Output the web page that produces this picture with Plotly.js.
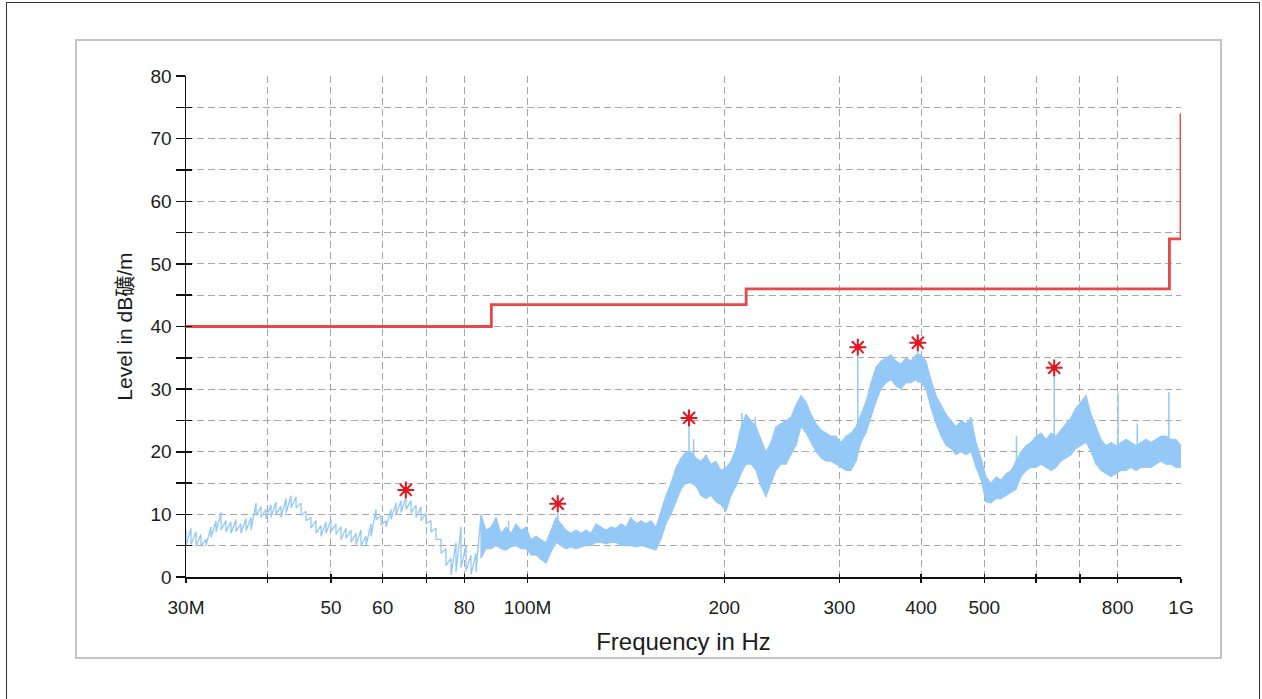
<!DOCTYPE html>
<html><head><meta charset="utf-8">
<script src="https://cdn.plot.ly/plotly-3.0.1.min.js"></script>
<style>
html,body{margin:0;padding:0;background:#fff;width:1262px;height:699px;overflow:hidden;}
#wrap{position:relative;width:1262px;height:699px;}
#chart{position:absolute;left:0;top:0;width:1262px;height:699px;}
.frame{position:absolute;pointer-events:none;box-sizing:border-box;}
</style></head><body>
<div id="wrap">
<div class="frame" style="left:6px;top:2px;width:1254px;height:730px;border:1.5px solid #333;"></div>
<div class="frame" style="left:75px;top:39px;width:1147px;height:620px;border:2px solid #c4c4c4;"></div>
<div id="chart"></div>
</div>
<script>
// ---- measured trace: frequency (MHz), upper and lower edge of the noisy band (dBµV/m)
const freqMHz = [30.00,30.53,31.08,31.63,32.19,32.76,33.35,33.94,34.54,35.15,35.78,36.41,37.07,37.73,38.40,39.08,39.77,40.48,41.20,41.93,42.68,43.44,44.21,45.00,45.79,46.60,47.44,48.28,49.14,50.01,50.90,51.80,52.73,53.67,54.62,55.59,56.58,57.59,58.61,59.65,60.71,61.79,62.89,64.01,65.14,66.30,67.48,68.68,69.90,71.14,72.41,73.70,75.00,76.33,77.69,79.07,80.48,81.91,83.37,84.85,86.36,87.90,89.46,91.05,92.67,94.32,95.99,97.70,99.43,101.2,103.0,104.8,106.7,108.6,110.5,112.5,114.5,116.5,118.6,120.7,122.8,125.0,127.2,129.5,131.8,134.1,136.5,138.9,141.4,143.9,146.5,149.1,151.8,154.5,157.2,160.0,162.8,165.7,168.7,171.7,174.7,177.8,181.0,184.2,187.5,190.8,194.2,197.7,201.2,204.8,208.4,212.1,215.9,219.7,223.6,227.6,231.6,235.7,239.9,244.2,248.5,252.9,257.5,262.1,266.7,271.4,276.3,281.2,286.2,291.3,296.4,301.7,307.1,312.6,318.1,323.8,329.5,335.4,341.3,347.4,353.6,359.9,366.3,372.8,379.4,386.1,393.0,400.0,407.1,414.3,421.7,429.2,436.9,444.7,452.5,460.5,468.8,477.1,485.6,494.2,503.0,511.9,521.0,530.3,539.7,549.3,559.1,569.0,579.1,589.4,599.9,610.6,621.4,632.4,643.7,655.2,666.8,678.7,690.7,703.0,715.5,728.2,741.2,754.4,767.8,781.4,795.3,809.4,823.8,838.5,853.4,868.6,884.0,899.7,915.7,932.0,948.5,965.4,982.6,1000];
const levelHigh = [7.5,7.8,7.2,6.8,6.0,8.0,9.0,10.3,9.0,8.8,9.2,8.5,9.3,9.5,11.8,11.2,10.8,11.5,12.0,11.3,12.5,13.0,12.8,11.8,10.5,9.5,9.0,8.2,8.8,9.2,8.5,8.0,7.8,7.5,7.0,7.5,6.5,8.5,10.8,9.8,9.0,10.8,11.8,12.2,12.8,12.2,11.5,11.2,10.2,9.0,7.8,6.0,4.5,3.0,5.5,8.0,5.0,3.5,3.8,10.0,7.5,8.0,9.5,7.0,8.0,7.0,8.5,7.5,8.0,6.0,6.5,6.0,5.5,7.5,9.5,8.5,7.5,7.0,7.5,7.0,7.5,7.0,8.5,8.0,7.5,8.0,7.8,8.5,8.0,9.5,8.5,9.0,8.5,9.0,8.0,10.5,13.0,15.0,17.5,19.0,20.0,20.0,19.0,18.5,19.5,18.0,18.5,17.0,17.5,18.5,20.5,24.0,26.0,25.0,24.0,22.0,20.0,21.5,24.0,24.5,25.0,25.5,27.5,29.0,28.0,26.0,24.5,23.5,23.0,22.5,22.5,21.5,22.5,23.0,24.0,26.0,28.0,31.0,33.5,34.5,35.0,35.5,34.5,34.0,35.0,34.5,35.5,35.5,34.5,31.5,29.0,27.5,26.0,25.0,24.0,25.0,24.5,25.5,21.5,19.0,16.0,15.0,16.0,15.5,16.5,17.0,18.5,20.0,21.0,21.5,22.5,23.0,22.0,23.0,22.5,23.5,24.5,25.5,27.0,28.0,29.0,26.0,24.0,22.0,21.0,21.5,21.0,21.5,22.0,21.5,21.0,21.5,22.0,21.5,22.0,22.5,22.5,22.0,22.0,21.0];
const levelLow = [5.0,5.2,5.0,5.0,5.0,6.3,7.2,7.5,7.2,7.0,7.3,7.0,7.4,7.5,9.8,9.5,9.3,9.5,10.0,9.5,10.2,11.0,11.0,9.8,9.0,7.8,7.0,6.5,7.0,7.3,6.8,6.0,6.2,5.5,5.2,5.0,5.0,6.5,9.2,8.3,8.0,9.2,10.0,10.3,10.8,10.2,9.5,9.0,8.5,7.2,6.0,3.8,1.8,0.3,0.8,1.5,1.0,0.4,0.8,3.0,4.5,4.5,5.0,4.5,4.3,4.8,5.0,4.5,4.5,3.5,3.5,2.8,2.2,4.0,5.5,5.0,4.5,4.8,4.5,4.8,5.0,5.0,5.5,5.5,5.3,5.5,5.5,5.0,5.0,5.0,4.8,5.0,4.8,4.5,4.3,6.0,8.5,10.0,12.0,14.0,15.0,15.0,14.5,13.0,12.5,13.0,12.0,11.5,10.5,13.0,14.5,16.5,18.0,18.0,17.0,14.5,12.8,15.0,17.0,18.0,18.0,19.5,21.0,24.0,23.0,21.5,20.0,19.0,18.5,18.5,18.0,17.5,17.0,17.0,18.5,21.5,23.0,25.5,28.0,30.0,31.0,31.5,30.5,30.0,31.0,31.0,31.5,31.0,30.0,27.0,24.5,22.5,21.0,20.5,19.5,20.0,19.5,20.0,17.5,15.5,12.0,11.8,12.5,12.5,13.0,13.5,14.0,16.0,17.0,17.5,17.5,18.0,17.5,17.0,17.5,18.5,19.0,19.5,20.5,21.0,21.5,20.0,18.0,17.0,16.5,16.0,16.5,17.0,17.0,17.5,17.0,17.5,17.5,17.5,18.0,18.5,18.0,18.0,17.5,17.5];

// ---- narrow single-frequency spikes of the trace
const spikeFreqMHz = [93.5,111.2,146.0,176.6,179.5,212.8,223.0,247.0,320.1,395.5,560.0,639.7,801.0,857.0,958.0];
const spikeTop     = [9.0, 10.3, 9.0,  25.0, 22.0, 26.2, 25.5, 25.0, 36.5, 36.8, 22.5, 33.0, 29.5, 24.4, 29.5];
const spikeBase    = [5.0, 6.0,  5.0,  15.5, 15.0, 17.0, 17.5, 18.0, 21.0, 31.0, 15.0, 18.0, 17.0, 17.0, 18.0];

// ---- limit line (step)
const limitFreqMHz = [30,88,88,216,216,960,960,1000,1000];
const limitLevel   = [40,40,43.5,43.5,46,46,54,54,74];

// ---- marked peaks
const peakFreqMHz = [65.1,111.2,176.6,320.1,395.5,639.7];
const peakLevel   = [13.9,11.7,25.4,36.7,37.4,33.4];

// ---- axis ticks
const xTickVals = [30,40,50,60,70,80,100,200,300,400,500,600,700,800,1000];
const xTickText = ['30M','','50','60','','80','100M','200','300','400','500','','','800','1G'];
const yTickVals = [0,5,10,15,20,25,30,35,40,45,50,55,60,65,70,75,80];
const yTickText = ['0','','10','','20','','30','','40','','50','','60','','70','','80'];

const FONT = '"Liberation Sans", Arial, "Noto Sans CJK SC", sans-serif';
const BLUE = 'rgb(148,200,247)';
const RED_LINE = 'rgb(232,72,72)';
const RED_STAR = 'rgb(230,20,30)';
const TXT = '#1c1c1c';

// zigzag through upper/lower edges
const zigX = [], zigY = [];
freqMHz.forEach((f, i) => { zigX.push(f, f); zigY.push(levelHigh[i], levelLow[i]); });
// dense band (from ~84 MHz upwards) drawn as filled area between the edges
const bandIdx = freqMHz.map((f, i) => i).filter(i => freqMHz[i] >= 84);
const bandX = bandIdx.map(i => freqMHz[i]);
const bandHi = bandIdx.map(i => levelHigh[i]);
const bandLo = bandIdx.map(i => levelLow[i]);
// spikes as vertical segments
const spX = [], spY = [];
spikeFreqMHz.forEach((f, i) => { spX.push(f, f, null); spY.push(spikeBase[i], spikeTop[i], null); });

const traces = [
  {x: bandX, y: bandLo, mode: 'lines', line: {color: BLUE, width: 1}, hoverinfo: 'skip', showlegend: false},
  {x: bandX, y: bandHi, mode: 'lines', fill: 'tonexty', fillcolor: BLUE, line: {color: BLUE, width: 1}, hoverinfo: 'skip', showlegend: false},
  {x: zigX, y: zigY, mode: 'lines', line: {color: BLUE, width: 1.3}, name: 'Trace', showlegend: false},
  {x: spX, y: spY, mode: 'lines', line: {color: BLUE, width: 1.5}, hoverinfo: 'skip', showlegend: false},
  {x: limitFreqMHz, y: limitLevel, mode: 'lines', line: {color: RED_LINE, width: 2.8}, name: 'Limit', showlegend: false},
  {x: peakFreqMHz, y: peakLevel, mode: 'markers', marker: {symbol: 'asterisk-open', size: 14, color: RED_STAR, line: {color: RED_STAR, width: 2}}, name: 'Peaks', showlegend: false},
  {x: peakFreqMHz, y: peakLevel, mode: 'markers', marker: {symbol: 'circle', size: 6, color: RED_STAR}, hoverinfo: 'skip', showlegend: false},
  {x: [30], y: [0], xaxis: 'x2', yaxis: 'y2', mode: 'markers', marker: {opacity: 0}, hoverinfo: 'skip', showlegend: false}
];

const xRange = [Math.log10(30), 3];
const layout = {
  width: 1262, height: 699,
  margin: {l: 186, r: 81, t: 76, b: 122, pad: 0},
  paper_bgcolor: 'rgba(0,0,0,0)', plot_bgcolor: 'rgba(0,0,0,0)',
  showlegend: false,
  font: {family: FONT, size: 19, color: TXT},
  xaxis: {
    type: 'log', range: xRange, tickmode: 'array', tickvals: xTickVals, ticktext: xTickText,
    ticks: 'outside', ticklen: 4, tickwidth: 1.5, tickcolor: '#111',
    showline: true, linecolor: '#111', linewidth: 1.5, mirror: false,
    showgrid: true, gridcolor: '#a6a6a6', gridwidth: 1, griddash: '7px,4px',
    zeroline: false, automargin: false, ticklabelstandoff: 9,
    tickfont: {family: FONT, size: 19, color: TXT},
    title: {text: 'Frequency in Hz', font: {family: FONT, size: 24, color: TXT}, standoff: 16}
  },
  yaxis: {
    range: [0, 80], tickmode: 'array', tickvals: yTickVals, ticktext: yTickText,
    ticks: 'outside', ticklen: 9, tickwidth: 1.5, tickcolor: '#111',
    showline: true, linecolor: '#111', linewidth: 1.5, mirror: false,
    showgrid: true, gridcolor: '#a6a6a6', gridwidth: 1, griddash: '7px,4px',
    zeroline: false, automargin: false,
    tickfont: {family: FONT, size: 19, color: TXT},
    title: {text: 'Level in dB礦/m', font: {family: FONT, size: 21, color: TXT}, standoff: 12}
  },
  xaxis2: {
    type: 'log', range: xRange, overlaying: 'x', anchor: 'y2', side: 'bottom',
    tickmode: 'array', tickvals: xTickVals, ticks: 'inside', ticklen: 3, tickwidth: 1.5, tickcolor: '#111',
    showticklabels: false, showgrid: false, showline: false, zeroline: false
  },
  yaxis2: {
    range: [0, 80], overlaying: 'y', anchor: 'x2', side: 'left',
    tickmode: 'array', tickvals: yTickVals, ticks: 'inside', ticklen: 6, tickwidth: 1.5, tickcolor: '#111',
    showticklabels: false, showgrid: false, showline: false, zeroline: false
  }
};

Plotly.newPlot('chart', traces, layout, {staticPlot: true, displayModeBar: false});
</script>
</body></html>
